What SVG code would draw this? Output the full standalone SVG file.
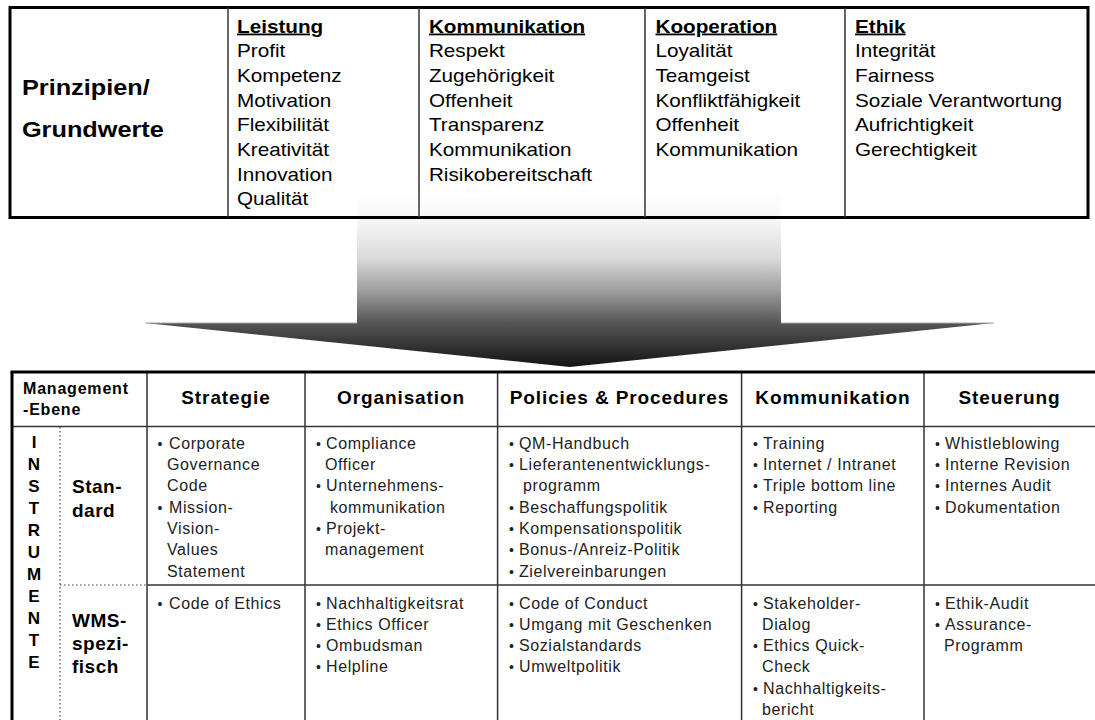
<svg xmlns="http://www.w3.org/2000/svg" width="1095" height="720" viewBox="0 0 1095 720">
<style>
text{font-family:"Liberation Sans",Arial,sans-serif}
.tt{font-size:18px;fill:#000}
.th{font-weight:bold;text-decoration:underline}
.pz{font-size:22px;font-weight:bold;fill:#000}
.bt{font-size:16px;letter-spacing:0.6px;fill:#222}
.bu{font-size:14px;fill:#222}
.bh{font-size:19px;font-weight:bold;letter-spacing:0.9px;text-anchor:middle;fill:#000}
.vl{font-size:17px;font-weight:bold;text-anchor:middle;fill:#000}
.rl{font-size:19px;font-weight:bold;letter-spacing:0.5px;fill:#000}
.mg{font-size:16px;font-weight:bold;letter-spacing:0.8px;fill:#000}
.frame{fill:none;stroke:#000;stroke-width:3}
.grid{stroke:#333;stroke-width:1.5;fill:none}
.dot{stroke:#444;stroke-width:1.2;stroke-dasharray:1.5 2.5;fill:none}
</style>
<defs>
<linearGradient id="ag" gradientUnits="userSpaceOnUse" x1="0" y1="193" x2="0" y2="367">
<stop offset="0" stop-color="#ffffff"/>
<stop offset="0.138" stop-color="#f8f8f8"/>
<stop offset="0.368" stop-color="#dcdcdc"/>
<stop offset="0.557" stop-color="#a0a0a0"/>
<stop offset="0.747" stop-color="#555555"/>
<stop offset="0.977" stop-color="#1a1a1a"/>
<stop offset="1" stop-color="#111111"/>
</linearGradient>
</defs>
<rect width="1095" height="720" fill="#fff"/>

<g id="connectors">
<path id="arrow" d="M357,193 L781,193 L781,323 L994,323 L569.6,367 L145,323 L357,323 Z" fill="url(#ag)"/>
<path d="M145,323 H357 M781,323 H994" stroke="#a8a8a8" stroke-width="1" fill="none"/>
</g>

<g id="grundwerte">
<rect class="frame" x="10" y="7.5" width="1078" height="210"/>
<g class="grid">
<line x1="228" y1="7.5" x2="228" y2="217.5"/>
<line x1="419" y1="7.5" x2="419" y2="217.5"/>
<line x1="645" y1="7.5" x2="645" y2="217.5"/>
<line x1="845" y1="7.5" x2="845" y2="217.5"/>
</g>
<g transform="scale(1.15 1)">
<g id="prinzipien">
<text class="pz" x="19.1" y="95">Prinzipien/</text>
<text class="pz" x="19.1" y="137">Grundwerte</text>
</g>
<g id="leistung" class="tt">
<text class="th" x="206.1" y="32.6">Leistung</text>
<text x="206.1" y="57.3">Profit</text>
<text x="206.1" y="82">Kompetenz</text>
<text x="206.1" y="106.7">Motivation</text>
<text x="206.1" y="131.4">Flexibilität</text>
<text x="206.1" y="156">Kreativität</text>
<text x="206.1" y="180.8">Innovation</text>
<text x="206.1" y="205.5">Qualität</text>
</g>
<g id="kommunikation-werte" class="tt">
<text class="th" x="373" y="32.6">Kommunikation</text>
<text x="373" y="57.3">Respekt</text>
<text x="373" y="82">Zugehörigkeit</text>
<text x="373" y="106.7">Offenheit</text>
<text x="373" y="131.4">Transparenz</text>
<text x="373" y="156">Kommunikation</text>
<text x="373" y="180.8">Risikobereitschaft</text>
</g>
<g id="kooperation" class="tt">
<text class="th" x="570" y="32.6">Kooperation</text>
<text x="570" y="57.3">Loyalität</text>
<text x="570" y="82">Teamgeist</text>
<text x="570" y="106.7">Konfliktfähigkeit</text>
<text x="570" y="131.4">Offenheit</text>
<text x="570" y="156">Kommunikation</text>
</g>
<g id="ethik" class="tt">
<text class="th" x="743.5" y="32.6">Ethik</text>
<text x="743.5" y="57.3">Integrität</text>
<text x="743.5" y="82">Fairness</text>
<text x="743.5" y="106.7">Soziale Verantwortung</text>
<text x="743.5" y="131.4">Aufrichtigkeit</text>
<text x="743.5" y="156">Gerechtigkeit</text>
</g>
</g>
</g>

<g id="instrumente-tabelle">
<g class="grid">
<line x1="12" y1="426.5" x2="1095" y2="426.5"/>
<line x1="147" y1="585" x2="1095" y2="585"/>
<line x1="147" y1="372" x2="147" y2="720"/>
<line x1="305" y1="372" x2="305" y2="720"/>
<line x1="497.6" y1="372" x2="497.6" y2="720"/>
<line x1="741.6" y1="372" x2="741.6" y2="720"/>
<line x1="924" y1="372" x2="924" y2="720"/>
</g>
<g class="dot">
<line x1="60" y1="427" x2="60" y2="720"/>
<line x1="60" y1="585" x2="147" y2="585"/>
</g>
<line x1="10.5" y1="372" x2="1095" y2="372" stroke="#000" stroke-width="3"/>
<line x1="12" y1="372" x2="12" y2="720" stroke="#000" stroke-width="3"/>

<g id="management-ebene">
<text class="mg" x="23" y="394">Management</text>
<text class="mg" x="23" y="414.7">-Ebene</text>
</g>
<g id="header">
<text class="bh" x="226" y="404">Strategie</text>
<text class="bh" x="401" y="404">Organisation</text>
<text class="bh" x="619.5" y="404">Policies &amp; Procedures</text>
<text class="bh" x="833" y="404">Kommunikation</text>
<text class="bh" x="1009.5" y="404">Steuerung</text>
</g>
<g id="instrumente">
<text class="vl" x="34" y="448">I</text>
<text class="vl" x="34" y="470">N</text>
<text class="vl" x="34" y="492">S</text>
<text class="vl" x="34" y="514">T</text>
<text class="vl" x="34" y="536">R</text>
<text class="vl" x="34" y="558">U</text>
<text class="vl" x="34" y="580">M</text>
<text class="vl" x="34" y="602">E</text>
<text class="vl" x="34" y="624">N</text>
<text class="vl" x="34" y="646">T</text>
<text class="vl" x="34" y="668">E</text>
</g>
<g id="standard">
<text class="rl" x="72" y="493.3">Stan-</text>
<text class="rl" x="72" y="516.7">dard</text>
</g>
<g id="wms">
<text class="rl" x="72" y="626.7">WMS-</text>
<text class="rl" x="72" y="650">spezi-</text>
<text class="rl" x="72" y="673.3">fisch</text>
</g>

<g id="strategie-standard">
<text class="bu" x="157.5" y="448.7">•</text>
<text class="bt" x="169" y="448.7">Corporate</text>
<text class="bt" x="167" y="470">Governance</text>
<text class="bt" x="167" y="491.3">Code</text>
<text class="bu" x="157.5" y="512.6">•</text>
<text class="bt" x="169" y="512.6">Mission-</text>
<text class="bt" x="167" y="533.9">Vision-</text>
<text class="bt" x="167" y="555.2">Values</text>
<text class="bt" x="167" y="576.5">Statement</text>
</g>
<g id="strategie-wms">
<text class="bu" x="157.5" y="608.5">•</text>
<text class="bt" x="169" y="608.5">Code of Ethics</text>
</g>

<g id="organisation-standard">
<text class="bu" x="316" y="448.7">•</text>
<text class="bt" x="326" y="448.7">Compliance</text>
<text class="bt" x="325" y="470">Officer</text>
<text class="bu" x="316" y="491.3">•</text>
<text class="bt" x="326" y="491.3">Unternehmens-</text>
<text class="bt" x="330" y="512.6">kommunikation</text>
<text class="bu" x="316" y="533.9">•</text>
<text class="bt" x="326" y="533.9">Projekt-</text>
<text class="bt" x="325" y="555.2">management</text>
</g>
<g id="organisation-wms">
<text class="bu" x="316" y="608.5">•</text>
<text class="bt" x="326" y="608.5">Nachhaltigkeitsrat</text>
<text class="bu" x="316" y="629.8">•</text>
<text class="bt" x="326" y="629.8">Ethics Officer</text>
<text class="bu" x="316" y="651.1">•</text>
<text class="bt" x="326" y="651.1">Ombudsman</text>
<text class="bu" x="316" y="672.4">•</text>
<text class="bt" x="326" y="672.4">Helpline</text>
</g>

<g id="policies-standard">
<text class="bu" x="509" y="448.7">•</text>
<text class="bt" x="519" y="448.7">QM-Handbuch</text>
<text class="bu" x="509" y="470">•</text>
<text class="bt" x="519" y="470">Lieferantenentwicklungs-</text>
<text class="bt" x="523" y="491.3">programm</text>
<text class="bu" x="509" y="512.6">•</text>
<text class="bt" x="519" y="512.6">Beschaffungspolitik</text>
<text class="bu" x="509" y="533.9">•</text>
<text class="bt" x="519" y="533.9">Kompensationspolitik</text>
<text class="bu" x="509" y="555.2">•</text>
<text class="bt" x="519" y="555.2">Bonus-/Anreiz-Politik</text>
<text class="bu" x="509" y="576.5">•</text>
<text class="bt" x="519" y="576.5">Zielvereinbarungen</text>
</g>
<g id="policies-wms">
<text class="bu" x="509" y="608.5">•</text>
<text class="bt" x="519" y="608.5">Code of Conduct</text>
<text class="bu" x="509" y="629.8">•</text>
<text class="bt" x="519" y="629.8">Umgang mit Geschenken</text>
<text class="bu" x="509" y="651.1">•</text>
<text class="bt" x="519" y="651.1">Sozialstandards</text>
<text class="bu" x="509" y="672.4">•</text>
<text class="bt" x="519" y="672.4">Umweltpolitik</text>
</g>

<g id="kommunikation-standard">
<text class="bu" x="753" y="448.7">•</text>
<text class="bt" x="763" y="448.7">Training</text>
<text class="bu" x="753" y="470">•</text>
<text class="bt" x="763" y="470">Internet / Intranet</text>
<text class="bu" x="753" y="491.3">•</text>
<text class="bt" x="763" y="491.3">Triple bottom line</text>
<text class="bu" x="753" y="512.6">•</text>
<text class="bt" x="763" y="512.6">Reporting</text>
</g>
<g id="kommunikation-wms">
<text class="bu" x="753" y="608.5">•</text>
<text class="bt" x="763" y="608.5">Stakeholder-</text>
<text class="bt" x="762" y="629.8">Dialog</text>
<text class="bu" x="753" y="651.1">•</text>
<text class="bt" x="763" y="651.1">Ethics Quick-</text>
<text class="bt" x="762" y="672.4">Check</text>
<text class="bu" x="753" y="693.7">•</text>
<text class="bt" x="763" y="693.7">Nachhaltigkeits-</text>
<text class="bt" x="762" y="715">bericht</text>
</g>

<g id="steuerung-standard">
<text class="bu" x="935" y="448.7">•</text>
<text class="bt" x="945" y="448.7">Whistleblowing</text>
<text class="bu" x="935" y="470">•</text>
<text class="bt" x="945" y="470">Interne Revision</text>
<text class="bu" x="935" y="491.3">•</text>
<text class="bt" x="945" y="491.3">Internes Audit</text>
<text class="bu" x="935" y="512.6">•</text>
<text class="bt" x="945" y="512.6">Dokumentation</text>
</g>
<g id="steuerung-wms">
<text class="bu" x="935" y="608.5">•</text>
<text class="bt" x="945" y="608.5">Ethik-Audit</text>
<text class="bu" x="935" y="629.8">•</text>
<text class="bt" x="945" y="629.8">Assurance-</text>
<text class="bt" x="944" y="651.1">Programm</text>
</g>
</g>
</svg>
